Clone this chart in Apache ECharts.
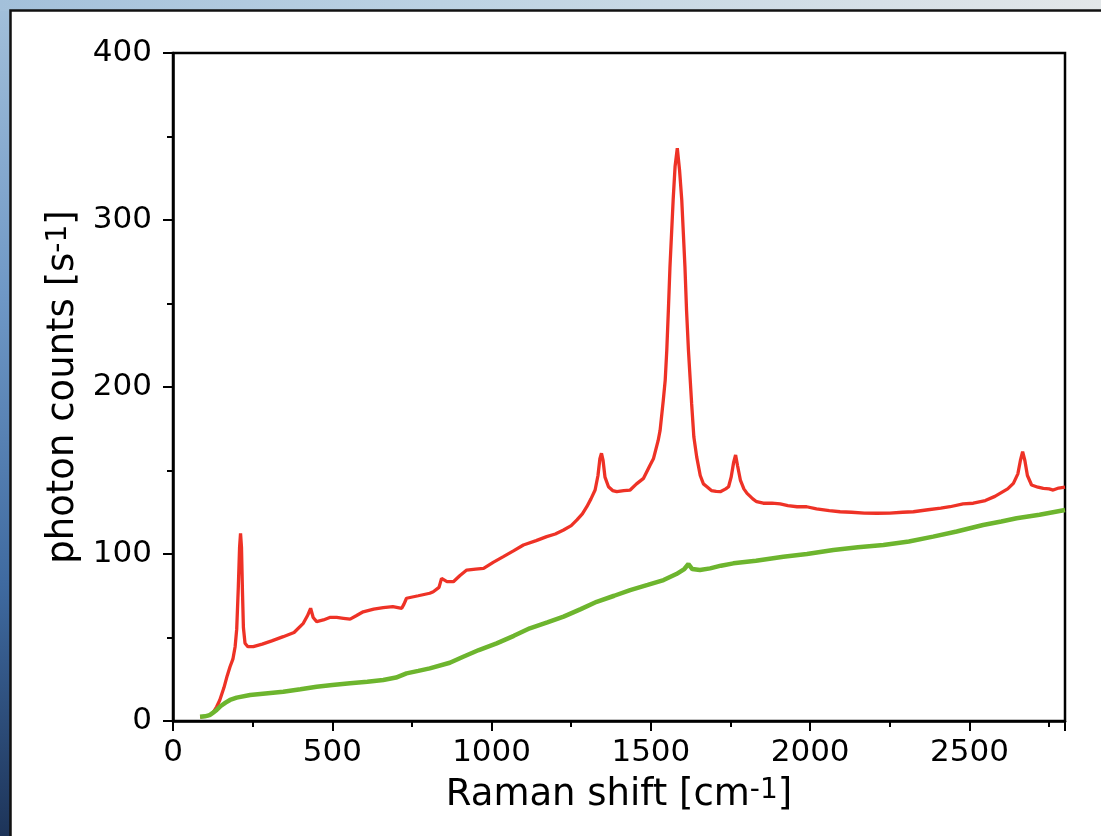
<!DOCTYPE html>
<html>
<head>
<meta charset="utf-8">
<script src="https://cdn.jsdelivr.net/npm/echarts@6/dist/echarts.min.js"></script>
<style>
  html, body { margin: 0; padding: 0; background: #ffffff; }
  #chart { width: 1101px; height: 836px; }
</style>
</head>
<body>
<div id="chart"></div>
<script>
// Raman shift [cm-1] and photon counts [s-1]
const redX = [85,100,115,126,137,147,160,170,179,188,195,200,205,209,212,215,218,221,226,235,252,280,310,346,380,409,422,432,440,451,472,492,514,535,556,575,597,630,660,690,718,725,733,770,806,817,835,843,849,860,880,900,922,950,975,1005,1037,1070,1100,1140,1173,1200,1226,1250,1268,1285,1299,1312,1325,1334,1340,1345,1350,1356,1367,1380,1393,1415,1435,1455,1477,1497,1508,1523,1529,1539,1545,1550,1555,1560,1565,1570,1576,1583,1590,1597,1602,1607,1612,1618,1623,1628,1635,1644,1655,1665,1676,1690,1705,1718,1735,1744,1752,1760,1766,1772,1781,1792,1802,1820,1832,1853,1880,1906,1930,1959,1989,2020,2060,2094,2130,2170,2209,2250,2290,2324,2370,2410,2439,2480,2512,2550,2580,2596,2620,2638,2652,2660,2667,2674,2682,2695,2715,2732,2750,2763,2780,2800];
const redY = [2.5,2.8,3.5,5,8.5,12.6,20,27,32.5,37,44.5,55,80,104,112.4,104,78,56,46.6,44.5,44.5,46,48,50.5,53,58.5,63,67.5,62,59.5,60.5,62,62,61.5,61,63,65.4,67,67.9,68.5,67.5,70,73.5,75,76.5,77.4,80,85.4,85.4,83.5,83.4,87,90.4,91,91.4,95,98.4,102,105.4,108,110.4,112,114.4,117,120.4,124,128.3,133,138.3,147,157,160.3,156,146,140.3,138,137.3,138,138.3,142,145.3,153,157,168,174,192,204,222,246,272,292,312,332,343,330,312,292,272,246,222,206,190,170,158,147,142,140.3,138,137.5,137.3,139,140.3,146,155,159.3,153,144.3,139,136.3,133,131.3,130.4,130.5,130,129,128.3,128.3,127,126,125.3,125,124.5,124.4,124.5,125,125.3,126.5,127.5,128.3,130,130.4,132,134.5,136.3,139,142.3,148,156,161.3,156,147,141.3,140,139.3,139,138.3,139.5,140];

const greenX = [85,100,115,126,137,150,165,179,200,242,290,346,400,451,500,556,610,660,700,733,770,806,869,911,960,1016,1070,1120,1175,1226,1280,1330,1385,1435,1490,1540,1580,1605,1618,1630,1654,1686,1720,1759,1830,1916,1990,2073,2150,2230,2310,2386,2460,2543,2600,2648,2720,2800];
const greenY = [2.5,2.8,3.5,5,6.6,9,11,12.6,14,15.6,16.5,17.5,19,20.5,21.5,22.6,23.5,24.6,26,28.5,30,31.5,34.9,38.5,42.5,46.5,51,55.5,59,62.5,67,71.4,75,78.4,81.5,84.4,88,91,94,91,90.4,91.4,93,94.4,96,98.4,100,102.4,104,105.4,107.5,110.4,113.5,117.4,119.5,121.4,123.5,126.3];

const xAxisMin = 0, xAxisMax = 2800, xAxisStep = 500;
const yAxisMin = 0, yAxisMax = 400, yAxisStep = 100;
const xTitle = 'Raman shift [cm';
const yTitle = 'photon counts [s';
const titleExp = '-1';

const FONT = 'DejaVu Sans';
const redData = redX.map((x, i) => [x, redY[i]]);
const greenData = greenX.map((x, i) => [x, greenY[i]]);

const chart = echarts.init(document.getElementById('chart'), null, { renderer: 'canvas' });

const axisCommon = {
  axisLine: { show: true, onZero: false, lineStyle: { color: '#000', width: 2.5 } },
  axisTick: { show: true, inside: false, length: 10, lineStyle: { color: '#000', width: 2 } },
  minorTick: { show: true, splitNumber: 2, length: 6, lineStyle: { color: '#000', width: 2 } },
  splitLine: { show: false },
  minorSplitLine: { show: false }
};

const richName = {
  t: { fontFamily: FONT, fontSize: 37, color: '#000' },
  s: { fontFamily: FONT, fontSize: 28, color: '#000', verticalAlign: 'top' }
};

chart.setOption({
  animation: false,
  backgroundColor: '#ffffff',
  graphic: [
    {
      type: 'rect', z: -100, silent: true,
      shape: { x: 0, y: 0, width: 1101, height: 836 },
      style: { fill: new echarts.graphic.LinearGradient(0, 0, 0, 1, [
        { offset: 0, color: '#a3c0da' },
        { offset: 0.35, color: '#6f98c6' },
        { offset: 0.7, color: '#3f6aa0' },
        { offset: 1, color: '#1d3459' }
      ]) }
    },
    {
      type: 'rect', z: -99, silent: true,
      shape: { x: 0, y: 0, width: 1101, height: 11 },
      style: { fill: new echarts.graphic.LinearGradient(0, 0, 1, 0, [
        { offset: 0, color: '#a3c0da' },
        { offset: 0.4, color: '#bcd2e3' },
        { offset: 1, color: '#e3e7e9' }
      ]) }
    },
    {
      type: 'rect', z: -98, silent: true,
      shape: { x: 10.5, y: 10.5, width: 1200, height: 900 },
      style: { fill: '#ffffff', stroke: '#111111', lineWidth: 2.5 }
    }
  ],
  grid: {
    left: 173, top: 53, right: 36, bottom: 115,
    show: true, borderColor: '#000', borderWidth: 2.5, backgroundColor: 'transparent'
  },
  xAxis: Object.assign({
    type: 'value', min: xAxisMin, max: xAxisMax, interval: xAxisStep,
    axisLabel: { color: '#000', fontFamily: FONT, fontSize: 31, margin: 16, showMaxLabel: false,
      formatter: v => String(v) },
    name: '{t|' + xTitle + '}{s|' + titleExp + '}{t|]}',
    nameLocation: 'middle', nameGap: 56,
    nameTextStyle: { fontFamily: FONT, fontSize: 37, color: '#000', rich: richName }
  }, axisCommon),
  yAxis: Object.assign({
    type: 'value', min: yAxisMin, max: yAxisMax, interval: yAxisStep,
    axisLabel: { color: '#000', fontFamily: FONT, fontSize: 31, margin: 21,
      formatter: v => String(v) },
    name: '{t|' + yTitle + '}{s|' + titleExp + '}{t|]}',
    nameLocation: 'middle', nameGap: 82,
    nameTextStyle: { fontFamily: FONT, fontSize: 37, color: '#000', rich: richName }
  }, axisCommon),
  series: [
    {
      name: 'red', type: 'line', data: redData, showSymbol: false, symbol: 'none',
      lineStyle: { color: '#ee3226', width: 3.3 }, z: 3
    },
    {
      name: 'green', type: 'line', data: greenData, showSymbol: false, symbol: 'none',
      lineStyle: { color: '#6db52e', width: 4.5 }, z: 4
    }
  ]
});
</script>
</body>
</html>
